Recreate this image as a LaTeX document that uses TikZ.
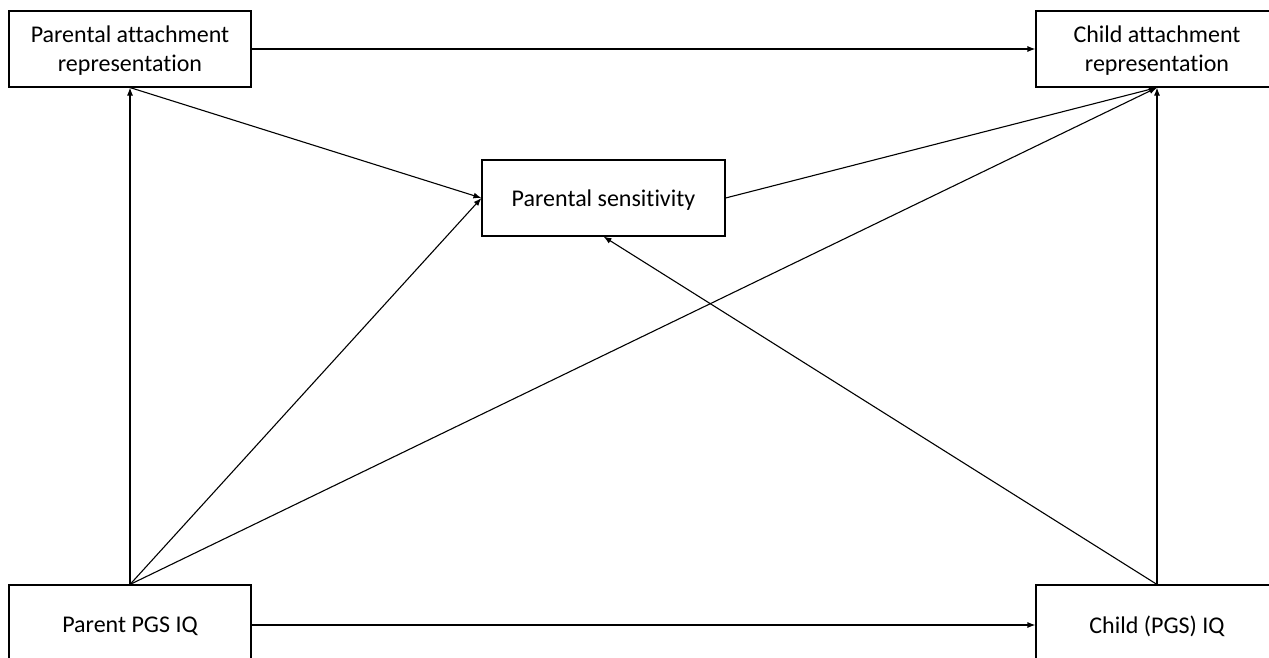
\documentclass[tikz,border=0pt]{standalone}
\usepackage{fontspec}
\setmainfont{Carlito}[Ligatures=NoCommon]
\usetikzlibrary{arrows.meta, positioning, calc}

\begin{document}
\begin{tikzpicture}[x=1pt, y=-1pt, line width=1.1pt, >={Latex[length=8pt, width=6pt]},
    box/.style={draw, rectangle, minimum width=242pt, inner sep=0pt, align=center,
        text depth=0pt, font=\fontsize{24}{29}\selectfont}]
    \useasboundingbox (0,0) rectangle (1269,657);
    \clip (0,0) rectangle (1269,657);

    \node[box, minimum height=76pt] (parAtt) at (130,49) {Parental attachment\\representation};
    \node[box, minimum height=76pt] (chAtt) at (1157,49) {Child attachment\\representation};
    \node[box, minimum height=76pt, minimum width=243pt] (sens) at (603.5,198) {Parental sensitivity};
    \node[box, minimum height=80pt] (parIQ) at (130,625) {Parent PGS IQ};
    \node[box, minimum height=80pt] (chIQ) at (1157,625) {Child (PGS) IQ};

    \draw[->] (parAtt) -- (chAtt);
    \draw[->] (parIQ) -- (chIQ);
    \draw[->] (parIQ.north) -- (parAtt.south);
    \draw[->] (chIQ.north) -- (chAtt.south);
    \draw[->] (parAtt.south) -- (sens.west);
    \draw[->] (parIQ.north) -- (sens.west);
    \draw[->] (parIQ.north) -- (chAtt.south);
    \draw[->] (sens.east) -- (chAtt.south);
    \draw[->] (chIQ.north) -- (sens.south);
\end{tikzpicture}
\end{document}
